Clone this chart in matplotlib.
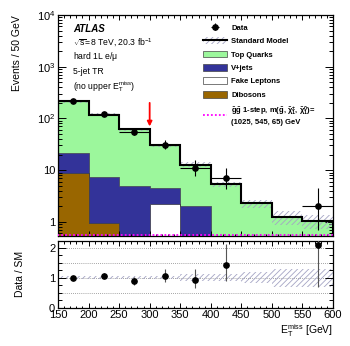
import numpy as np
import matplotlib
matplotlib.use('Agg')
import matplotlib.pyplot as plt
from matplotlib.patches import Patch
from matplotlib.lines import Line2D
from matplotlib.ticker import FixedLocator, FuncFormatter, LogLocator, MultipleLocator, NullFormatter

plt.rcParams['font.family'] = ['Liberation Sans', 'DejaVu Sans']
plt.rcParams['mathtext.fontset'] = 'custom'
plt.rcParams['mathtext.rm'] = 'Liberation Sans'
plt.rcParams['mathtext.it'] = 'Liberation Sans:italic'
plt.rcParams['mathtext.bf'] = 'Liberation Sans:bold'
plt.rcParams['mathtext.default'] = 'regular'
plt.rcParams['hatch.linewidth'] = 0.6

# ---- dane ----
edges = [150, 200, 250, 300, 350, 400, 450, 500, 550, 600]
centers = [175, 225, 275, 325, 375, 425, 475, 525, 575]

top_quarks = [192, 110.6, 57.1, 25.5, 10.8, 5.3, 2.27, 1.25, 1.05]
fake_leptons = [0, 0, 0, 2.17, 0, 0, 0, 0, 0]
vjets = [12.9, 6.5, 4.9, 2.3, 2.0, 0, 0, 0, 0]
dibosons = [9.0, 0.94, 0, 0, 0, 0, 0, 0, 0]
sm_total = [214, 118, 62, 30, 12.8, 5.3, 2.27, 1.25, 1.05]
sm_rel_unc = [0.06, 0.06, 0.06, 0.06, 0.12, 0.12, 0.19, 0.30, 0.30]
signal = [0.55, 0.55, 0.55, 0.55, 0.55, 0.55, 0.55, 0.55, 0.55]

data_x = [175, 225, 275, 325, 375, 425, 575]
data_y = [214, 124, 55, 31, 11, 7, 2]
data_err_lo = [14.6, 11.1, 7.4, 5.5, 3.3, 2.6, 1.3]
data_err_hi = [15.1, 12.1, 8.4, 6.6, 4.4, 3.8, 2.6]

ratio_y = [1.0, 1.067, 0.89, 1.045, 0.92, 1.41, 2.07]
ratio_err_lo = [0.07, 0.09, 0.12, 0.19, 0.26, 0.52, 1.37]
ratio_err_hi = [0.07, 0.10, 0.14, 0.24, 0.36, 0.70, 2.50]

arrow_x = 300
arrow_from, arrow_to = 200, 70

c_top = '#9cf79c'
c_vj = '#333399'
c_fake = '#ffffff'
c_dib = '#996600'
c_hatch = '#a4a4c4'

fig = plt.figure(figsize=(3.5, 3.46), dpi=100)
ax = fig.add_axes([0.1657, 0.3188, 0.7857, 0.6378])
rax = fig.add_axes([0.1657, 0.1107, 0.7857, 0.1928])

# stos tła
base = np.full(len(centers), 1e-3)
b1 = base + np.array(dibosons)
b2 = b1 + np.array(fake_leptons)
b3 = b2 + np.array(vjets)
b4 = b3 + np.array(top_quarks)
ax.stairs(b1, edges, baseline=base, fill=True, facecolor=c_dib, edgecolor='#444444', lw=0.4, zorder=1)
ax.stairs(b2, edges, baseline=b1, fill=True, facecolor=c_fake, edgecolor='#444444', lw=0.4, zorder=1)
ax.stairs(b3, edges, baseline=b2, fill=True, facecolor=c_vj, edgecolor='#444444', lw=0.4, zorder=1)
ax.stairs(b4, edges, baseline=b3, fill=True, facecolor=c_top, edgecolor='#5a8a5a', lw=0.4, zorder=0.9)

# niepewność SM
sm = np.array(sm_total)
unc = np.array(sm_rel_unc)
ax.stairs(sm * (1 + unc), edges, baseline=sm * (1 - unc), fill=True, facecolor='none',
          edgecolor=c_hatch, hatch='//////', lw=0, zorder=2)
ax.stairs(sm, edges, color='black', lw=1.5, zorder=3)
ax.stairs(signal, edges, color='#ff00ff', lw=1.3, ls=(0, (1, 1.2)), zorder=3)

dat = ax.errorbar(data_x, data_y, yerr=[data_err_lo, data_err_hi], xerr=25, fmt='o', color='black',
                  ms=3.8, lw=0.8, capsize=0, zorder=5)

ax.annotate('', xy=(arrow_x, arrow_to), xytext=(arrow_x, arrow_from),
            arrowprops=dict(arrowstyle='-|>', color='red', lw=1.3, mutation_scale=7, shrinkA=0, shrinkB=0),
            zorder=6)

ax.set_yscale('log')
ax.set_xlim(150, 600)
ax.set_ylim(0.54, 1e4)

def log_fmt(v, pos):
    if abs(v - 1) < 1e-6:
        return '1'
    if abs(v - 10) < 1e-6:
        return '10'
    return r'$10^{%d}$' % round(np.log10(v))

ax.yaxis.set_major_locator(FixedLocator([1, 10, 100, 1000, 10000]))
ax.yaxis.set_major_formatter(FuncFormatter(log_fmt))
ax.yaxis.set_minor_locator(LogLocator(base=10, subs=np.arange(2, 10), numticks=20))
ax.yaxis.set_minor_formatter(NullFormatter())
ax.xaxis.set_major_locator(MultipleLocator(50))
ax.xaxis.set_minor_locator(MultipleLocator(10))
ax.tick_params(axis='x', labelbottom=False)
ax.set_ylabel('Events / 50 GeV', fontsize=7.5, loc='top', labelpad=2)
ax.yaxis.set_label_coords(-0.132, 1.0)

for a in (ax, rax):
    a.tick_params(which='both', direction='in', top=True, right=True, labelsize=8, width=0.7)
    a.tick_params(axis='y', which='major', length=5.8)
    a.tick_params(axis='y', which='minor', length=2.9)
    a.tick_params(axis='x', which='major', length=3.6)
    a.tick_params(axis='x', which='minor', length=1.8)
    a.tick_params(axis='x', pad=1)
    a.tick_params(axis='y', pad=2)
    for s in a.spines.values():
        s.set_linewidth(0.9)

# opisy
tx = 0.0545
ax.text(tx, 0.9366, 'ATLAS', transform=ax.transAxes, fontsize=7, fontweight='bold', style='italic', va='center')
ax.text(tx, 0.873, r'$\sqrt{s}$=8 TeV, 20.3 fb$^{-1}$', transform=ax.transAxes, fontsize=6.2, va='center')
ax.text(tx, 0.81, r'hard 1L e/$\mu$', transform=ax.transAxes, fontsize=6.2, va='center')
ax.text(tx, 0.746, '5-jet TR', transform=ax.transAxes, fontsize=6.2, va='center')
ax.text(tx, 0.678, r'(no upper $E_{T}^{miss}$)', transform=ax.transAxes, fontsize=6.2, va='center')

# legenda
h_sm = (Patch(facecolor='white', edgecolor=c_hatch, hatch='//////', lw=0), Line2D([], [], color='black', lw=1.5))
handles = [dat, h_sm,
           Patch(facecolor=c_top, edgecolor='#444444', lw=0.5),
           Patch(facecolor=c_vj, edgecolor='#444444', lw=0.5),
           Patch(facecolor=c_fake, edgecolor='#444444', lw=0.5),
           Patch(facecolor=c_dib, edgecolor='#444444', lw=0.5),
           Line2D([], [], color='#ff00ff', lw=1.3, ls=(0, (1, 1.2)))]
labels = ['Data', 'Standard Model', 'Top Quarks', 'V+jets', 'Fake Leptons', 'Dibosons',
          r'$\tilde{g}\tilde{g}$ 1-step, m($\tilde{g}$, $\tilde{\chi}_1^{\pm}$, $\tilde{\chi}_1^{0}$)=' + '\n(1025, 545, 65) GeV']
leg = ax.legend(handles, labels, loc='upper left', bbox_to_anchor=(0.527, 0.961), frameon=False,
                prop={'size': 5.5, 'weight': 'bold'}, handlelength=3.2, handleheight=1.0,
                handletextpad=0.5, labelspacing=0.71, borderpad=0, borderaxespad=0)

# panel Data / SM
rax.stairs(1 + unc, edges, baseline=1 - unc, fill=True, facecolor='none', edgecolor=c_hatch,
           hatch='//////', lw=0, zorder=1)
for yv in (0.5, 1.0, 1.5, 2.0):
    rax.axhline(yv, color='#888888', lw=0.6, ls=(0, (1, 1.5)), zorder=0.5)
rax.errorbar(data_x, ratio_y, yerr=[ratio_err_lo, ratio_err_hi], fmt='o', color='black', ms=3.8,
             lw=0.8, ecolor='#555555', capsize=0, zorder=5)
rax.set_xlim(150, 600)
rax.set_ylim(0, 2.22)
rax.yaxis.set_major_locator(FixedLocator([0, 1, 2]))
rax.yaxis.set_minor_locator(MultipleLocator(0.25))
rax.xaxis.set_major_locator(MultipleLocator(50))
rax.xaxis.set_minor_locator(MultipleLocator(10))
rax.tick_params(axis='x', pad=2)
rax.set_ylabel('Data / SM', fontsize=7.5)
rax.yaxis.set_label_coords(-0.12, 0.5)
rax.set_xlabel(r'$E_{T}^{miss}$ [GeV]', fontsize=7.5, loc='right', labelpad=1)

fig.savefig('out.png', dpi=100)
